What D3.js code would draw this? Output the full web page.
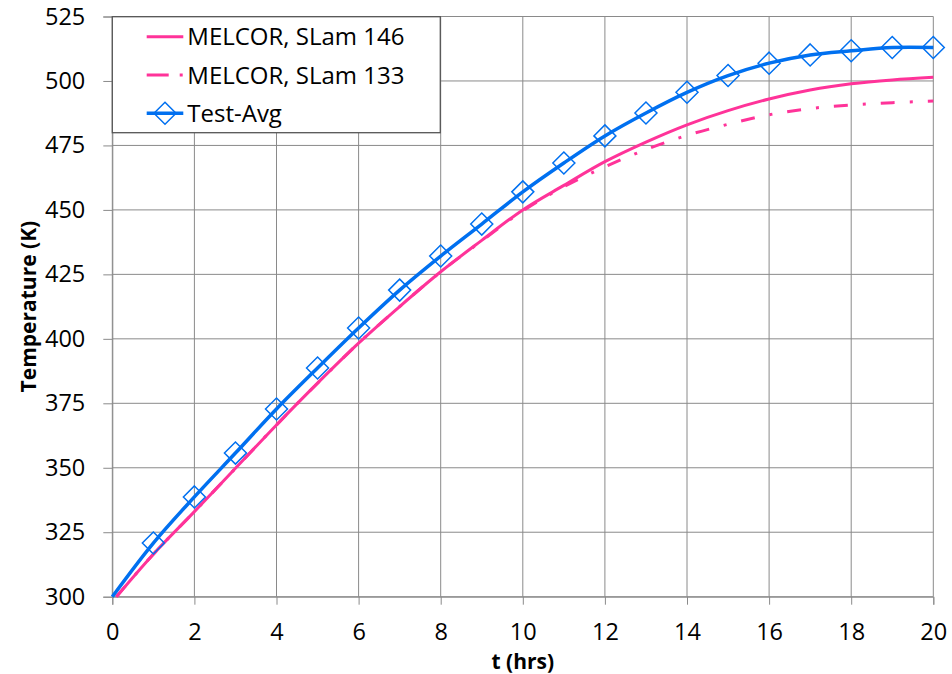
<!DOCTYPE html>
<html>
<head>
<meta charset="utf-8">
<script src="https://cdn.jsdelivr.net/npm/d3@7"></script>
<style>
  html, body { margin: 0; padding: 0; background: #fff; }
  svg { display: block; }
  text { font-family: "Open Sans", "Liberation Sans", sans-serif; fill: #000; }
</style>
</head>
<body>
<svg id="chart" width="952" height="674"></svg>
<script>
// Test-average temperatures, hourly
const testHours = [0, 1, 2, 3, 4, 5, 6, 7, 8, 9, 10, 11, 12, 13, 14, 15, 16, 17, 18, 19, 20];
const testAvg = [300, 320.8, 338.7, 355.7, 372.8, 388.7, 404.2, 418.9, 432.1, 444.5, 457.0,
                 468.2, 478.7, 487.6, 495.6, 502.1, 506.9, 510.1, 511.7, 513.0, 513.0];

// MELCOR calculations
const melcorHours = [0.1, 1, 2, 3, 4, 5, 6, 7, 8, 9, 10, 11, 12, 13, 14, 15, 16, 17, 18, 19, 20];
const slam146 = [300, 316.5, 333.0, 349.8, 366.6, 382.8, 398.3, 412.5, 426.0, 438.2, 450.0,
                 459.5, 468.7, 476.3, 483.0, 488.5, 493.0, 496.5, 498.9, 500.4, 501.4];
const slam133 = [300, 316.5, 333.0, 349.8, 366.6, 382.8, 398.3, 412.5, 426.0, 438.0, 449.6,
                 459.0, 466.7, 473.4, 478.9, 483.2, 486.9, 489.3, 490.7, 491.6, 492.2];

const xTicks = [0, 2, 4, 6, 8, 10, 12, 14, 16, 18, 20];
const yTicks = [300, 325, 350, 375, 400, 425, 450, 475, 500, 525];
const seriesNames = ["MELCOR, SLam 146", "MELCOR, SLam 133", "Test-Avg"];

const PINK = "#ff3399";
const BLUE = "#0070f0";
const GRID = "#8a8a8a";

const svg = d3.select("#chart");
const plotLeft = 112.3, plotRight = 933.3, plotTop = 16.5, plotBottom = 596.7;

const x = d3.scaleLinear().domain([0, 20]).range([plotLeft, plotRight]);
const y = d3.scaleLinear().domain([300, 525]).range([plotBottom, plotTop]);

// grid
const grid = svg.append("g").attr("stroke", GRID).attr("stroke-width", 1);
grid.selectAll(".gx").data(xTicks).join("line")
  .attr("x1", d => x(d)).attr("x2", d => x(d)).attr("y1", plotTop).attr("y2", plotBottom);
grid.selectAll(".gy").data(yTicks).join("line")
  .attr("x1", plotLeft).attr("x2", plotRight).attr("y1", d => y(d)).attr("y2", d => y(d));

// axes
const yAxis = svg.append("g").attr("transform", `translate(${plotLeft},0)`)
  .call(d3.axisLeft(y).tickValues(yTicks).tickSize(9).tickPadding(18).tickFormat(d3.format("d")));
const xAxis = svg.append("g").attr("transform", `translate(0,${plotBottom})`)
  .call(d3.axisBottom(x).tickValues(xTicks).tickSize(8).tickPadding(19).tickFormat(d3.format("d")));
[xAxis, yAxis].forEach(a => {
  a.selectAll("path, line").attr("stroke", GRID).attr("stroke-width", 1);
  a.selectAll("text").attr("font-family", "'Open Sans', sans-serif").attr("font-size", 23.5).attr("fill", "#000");
});

// axis titles
svg.append("text")
  .attr("x", (plotLeft + plotRight) / 2).attr("y", 669)
  .attr("text-anchor", "middle").attr("font-weight", "bold").attr("font-size", 21)
  .text("t (hrs)");
svg.append("text")
  .attr("transform", `translate(36,${(plotTop + plotBottom) / 2}) rotate(-90)`)
  .attr("text-anchor", "middle").attr("font-weight", "bold").attr("font-size", 21)
  .text("Temperature (K)");

// lines
const curve = d3.curveCatmullRom.alpha(0.5);
const lineMelcor = d3.line().x((d, i) => x(melcorHours[i])).y(d => y(d)).curve(curve);
const lineTest = d3.line().x((d, i) => x(testHours[i])).y(d => y(d)).curve(curve);

const plot = svg.append("g");
plot.append("path").datum(slam146).attr("d", lineMelcor)
  .attr("fill", "none").attr("stroke", PINK).attr("stroke-width", 3);
plot.append("path").datum(slam133).attr("d", lineMelcor)
  .attr("fill", "none").attr("stroke", PINK).attr("stroke-width", 3)
  .attr("stroke-dasharray", "14,15,3,15");
plot.append("path").datum(testAvg).attr("d", lineTest)
  .attr("fill", "none").attr("stroke", BLUE).attr("stroke-width", 3.5);

// diamond markers (hours 1..20)
const diamond = r => `M0,${-r}L${r},0L0,${r}L${-r},0Z`;
plot.selectAll(".mk").data(testAvg.slice(1)).join("path")
  .attr("transform", (d, i) => `translate(${x(testHours[i + 1])},${y(d)})`)
  .attr("d", diamond(11))
  .attr("fill", "none").attr("stroke", BLUE).attr("stroke-width", 1.5);

// legend
const lg = svg.append("g");
lg.append("rect").attr("x", plotLeft).attr("y", 16.7).attr("width", 328).attr("height", 116)
  .attr("fill", "#fff").attr("stroke", "#555").attr("stroke-width", 1.3);
const rowY = [36.7, 75, 113.3];
const sx0 = 146.7, sx1 = 183.3;
lg.append("line").attr("x1", sx0).attr("x2", sx1).attr("y1", rowY[0]).attr("y2", rowY[0])
  .attr("stroke", PINK).attr("stroke-width", 3);
lg.append("line").attr("x1", sx0).attr("x2", sx1).attr("y1", rowY[1]).attr("y2", rowY[1])
  .attr("stroke", PINK).attr("stroke-width", 3).attr("stroke-dasharray", "22,11,3,20");
lg.append("line").attr("x1", sx0).attr("x2", sx1).attr("y1", rowY[2]).attr("y2", rowY[2])
  .attr("stroke", BLUE).attr("stroke-width", 3.5);
lg.append("path").attr("transform", `translate(${(sx0 + sx1) / 2},${rowY[2]})`)
  .attr("d", diamond(11)).attr("fill", "none").attr("stroke", BLUE).attr("stroke-width", 1.5);
lg.selectAll(".lt").data(seriesNames).join("text")
  .attr("x", 187.3).attr("y", (d, i) => rowY[i]).attr("dy", "0.36em")
  .attr("font-size", 24).text(d => d);
</script>
</body>
</html>
